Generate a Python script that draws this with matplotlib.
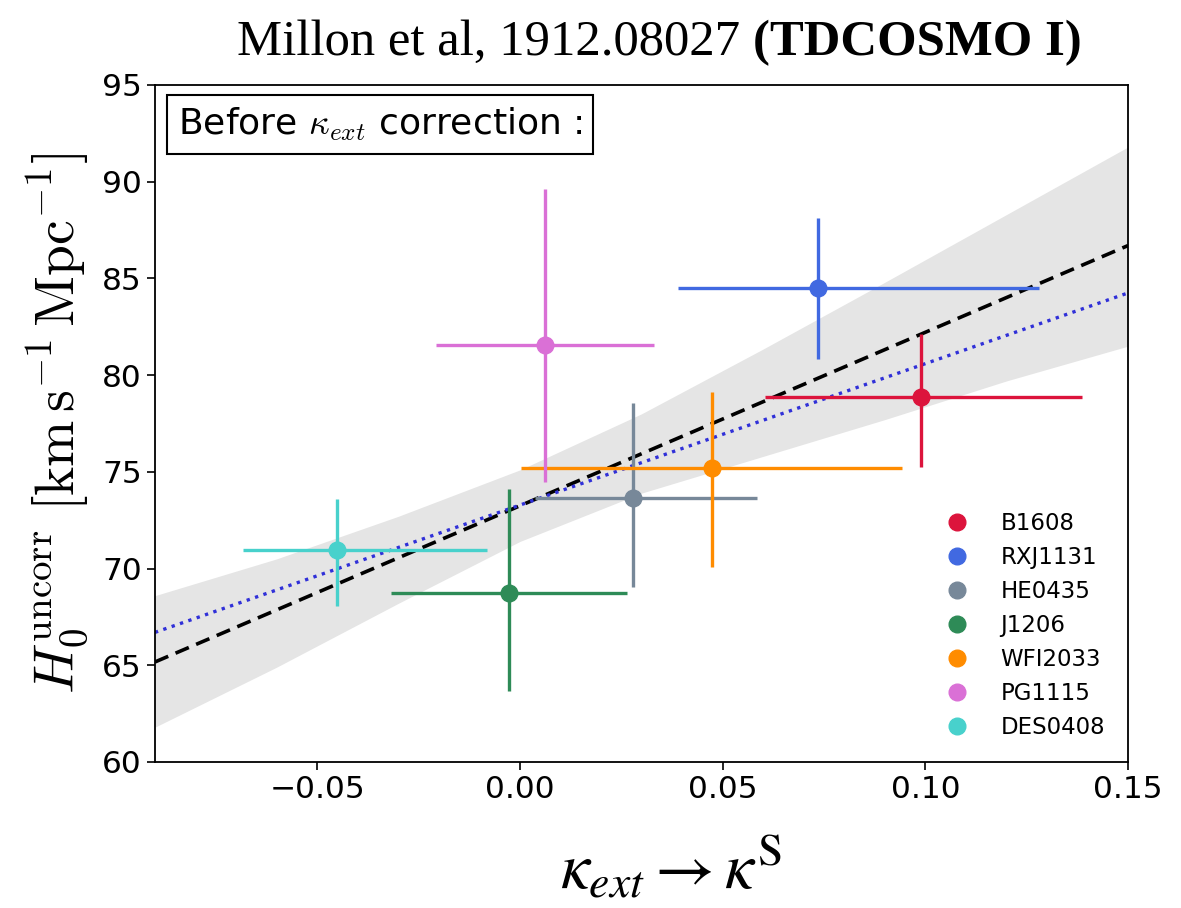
import numpy as np
import matplotlib
matplotlib.use('Agg')
import matplotlib.pyplot as plt
from matplotlib.lines import Line2D

# lenses
names = ['B1608', 'RXJ1131', 'HE0435', 'J1206', 'WFI2033', 'PG1115', 'DES0408']
colors = ['crimson', 'royalblue', 'lightslategray', 'seagreen', 'darkorange', 'orchid', 'mediumturquoise']
kappa = [0.099, 0.0735, 0.0278, -0.0028, 0.0473, 0.0063, -0.0451]
kappa_err_lo = [0.0386, 0.0344, 0.0240, 0.0289, 0.0469, 0.0269, 0.0232]
kappa_err_hi = [0.0397, 0.0545, 0.0308, 0.0291, 0.0469, 0.0269, 0.0371]
h0 = [78.87, 84.50, 73.65, 68.73, 75.20, 81.56, 70.96]
h0_err_lo = [3.62, 3.67, 4.61, 5.06, 5.12, 7.09, 2.90]
h0_err_hi = [3.26, 3.62, 4.91, 5.37, 3.93, 8.06, 2.63]

# fits
fit_x = [-0.09, 0.15]
fit_h0 = [65.17, 86.70]
fit2_h0 = [66.70, 84.25]

# confidence band
band_x = [-0.09, -0.06, -0.03, 0.0, 0.03, 0.06, 0.09, 0.12, 0.15]
band_lo = [61.8, 64.9, 68.2, 71.4, 73.9, 75.8, 77.7, 79.7, 81.5]
band_hi = [68.6, 70.5, 72.7, 75.1, 78.0, 81.35, 84.8, 88.3, 91.8]

fig = plt.figure(figsize=(11.81, 9.08), dpi=100)
ax = fig.add_axes([0.1312, 0.1608, 0.8240, 0.7456])

ax.fill_between(band_x, band_lo, band_hi, color='#e5e5e5', lw=0, zorder=0)
ax.plot(fit_x, fit_h0, ls='--', color='black', lw=2.6, dashes=(4, 2.2), zorder=1)
ax.plot(fit_x, fit2_h0, ls=':', color='#3030d8', lw=2.4, zorder=1)

handles = []
for i in range(len(names)):
    ax.errorbar(kappa[i], h0[i],
                xerr=[[kappa_err_lo[i]], [kappa_err_hi[i]]],
                yerr=[[h0_err_lo[i]], [h0_err_hi[i]]],
                fmt='o', color=colors[i], ms=12, elinewidth=2.4, capsize=0, zorder=3)
    handles.append(Line2D([], [], marker='o', ls='', color=colors[i], ms=12, label=names[i]))

ax.legend(handles=handles, loc='lower right', frameon=False, fontsize=16.5,
          handletextpad=0.9, labelspacing=0.48, borderaxespad=0.6)

ax.set_xlim(-0.09, 0.15)
ax.set_ylim(60, 95)
ax.set_xticks([-0.05, 0.0, 0.05, 0.10, 0.15])
ax.set_yticks(np.arange(60, 96, 5))
ax.tick_params(labelsize=22.5, length=6, width=1.2)
for s in ax.spines.values():
    s.set_linewidth(1.3)

ax.set_ylabel(r'$H_0^{\rm uncorr}\ [{\rm km\,s^{-1}\,Mpc^{-1}}]$', fontsize=40,
              math_fontfamily='cm', labelpad=8)
ax.set_xlabel(r'$\kappa_{ext} \rightarrow \kappa^{\rm S}$', fontsize=47,
              math_fontfamily='stix', labelpad=22)
ax.xaxis.label.set_x(0.53)

ax.text(0.0236, 0.969, r'Before $\kappa_{ext}$ correction :', transform=ax.transAxes,
        fontsize=26, va='top', ha='left', math_fontfamily='cm',
        bbox=dict(boxstyle='square,pad=0.3', fc='white', ec='black', lw=1.5))

t = fig.text(0.2007, 0.939, 'Millon et al, 1912.08027 ', fontsize=36.5,
             family='Liberation Serif', va='baseline', ha='left')
fig.canvas.draw()
ax.annotate('(TDCOSMO I)', xy=(1, 0), xycoords=t, va='bottom', ha='left',
            fontsize=36.5, family='Liberation Serif', weight='bold')

fig.savefig('out.png', dpi=100)
